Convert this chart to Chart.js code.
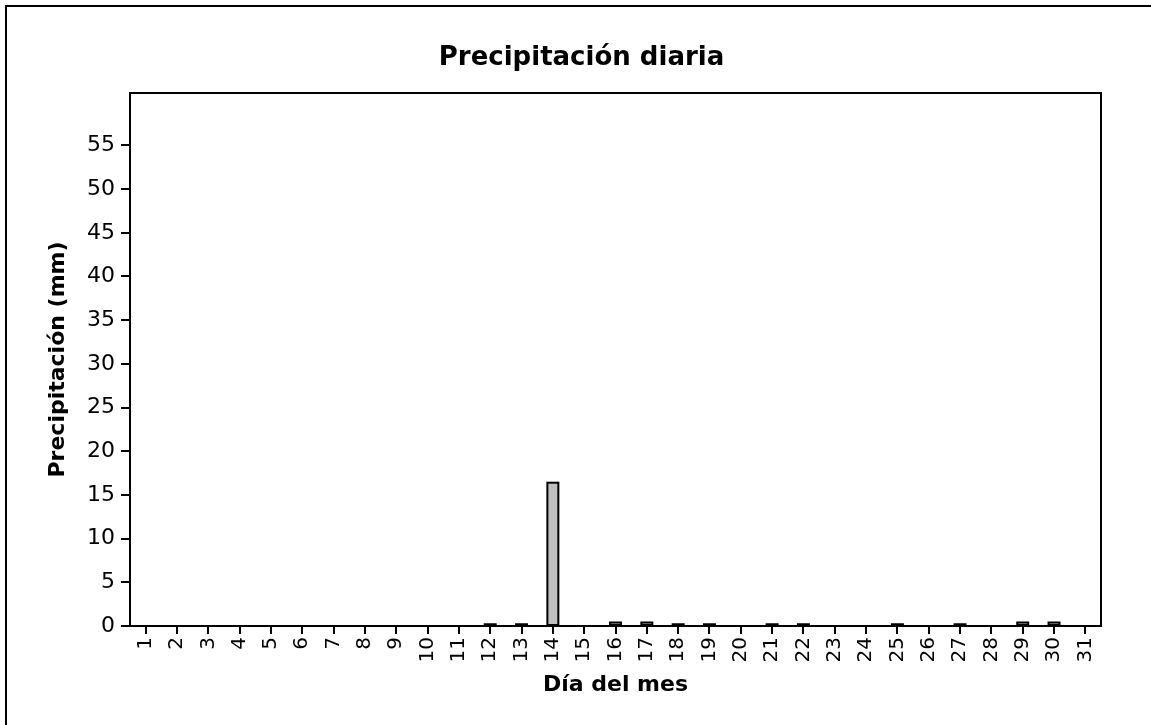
<!DOCTYPE html>
<html>
<head>
<meta charset="utf-8">
<script src="https://cdn.jsdelivr.net/npm/chart.js@4.4.1/dist/chart.umd.min.js"></script>
<style>
  html, body { margin: 0; padding: 0; background: #ffffff; }
  #wrap { position: relative; width: 1151px; height: 725px; }
  canvas { display: block; }
</style>
</head>
<body>
<div id="wrap"><canvas id="c" width="1151" height="725"></canvas></div>
<script>
const days = ['1','2','3','4','5','6','7','8','9','10','11','12','13','14','15','16','17','18','19','20','21','22','23','24','25','26','27','28','29','30','31'];
const precipitation = [0,0,0,0,0,0,0,0,0,0,0,0.2,0.2,16.4,0,0.4,0.4,0.2,0.2,0,0.2,0.2,0,0,0.2,0,0.2,0,0.4,0.4,0];
const yTickValues = [0,5,10,15,20,25,30,35,40,45,50,55];
const yMax = 61;

const titleText = 'Precipitación diaria';
const xTitle = 'Día del mes';
const yTitle = 'Precipitación (mm)';

const FONT = '"DejaVu Sans", Verdana, sans-serif';

const framePlugin = {
  id: 'frame',
  beforeDraw(chart) {
    const ctx = chart.ctx;
    ctx.save();
    ctx.fillStyle = '#ffffff';
    ctx.fillRect(0, 0, chart.width, chart.height);
    ctx.strokeStyle = '#000000';
    ctx.lineWidth = 2;
    ctx.beginPath();
    ctx.moveTo(6, chart.height);
    ctx.lineTo(6, 6);
    ctx.lineTo(chart.width, 6);
    ctx.stroke();
    ctx.restore();
  },
  afterDatasetsDraw(chart) {
    const ctx = chart.ctx;
    ctx.save();
    ctx.strokeStyle = '#000000';
    ctx.lineWidth = 2;
    chart.getDatasetMeta(0).data.forEach(el => {
      const p = el.getProps(['x', 'y', 'base', 'width'], true);
      if (Math.abs(p.base - p.y) < 0.01) return;
      ctx.strokeRect(p.x - p.width / 2, p.y, p.width, p.base - p.y);
    });
    ctx.restore();
  },
  afterDraw(chart) {
    const a = chart.chartArea;
    const ctx = chart.ctx;
    ctx.save();
    ctx.strokeStyle = '#000000';
    ctx.lineWidth = 2;
    ctx.strokeRect(a.left, a.top, a.right - a.left, a.bottom - a.top);
    ctx.restore();
  }
};

new Chart(document.getElementById('c'), {
  type: 'bar',
  data: {
    labels: days,
    datasets: [{
      data: precipitation,
      backgroundColor: '#c0c0c0',
      borderWidth: 0,
      categoryPercentage: 1.0,
      barPercentage: 0.35
    }]
  },
  options: {
    responsive: false,
    animation: false,
    devicePixelRatio: 1,
    layout: { padding: { left: 12, right: 0, top: 0, bottom: 0 } },
    plugins: {
      legend: { display: false },
      tooltip: { enabled: false },
      title: {
        display: true,
        text: titleText,
        color: '#000000',
        font: { family: FONT, size: 26, weight: 'bold' },
        padding: { top: 42.4, bottom: 19.4 }
      }
    },
    scales: {
      x: {
        type: 'category',
        offset: true,
        grid: { display: true, drawOnChartArea: false, drawTicks: true, tickLength: 8, offset: false, color: '#000000', lineWidth: 2 },
        border: { display: true, color: '#000000', width: 2 },
        ticks: { color: '#000000', font: { family: FONT, size: 20 }, minRotation: 90, maxRotation: 90, autoSkip: false, padding: 3 },
        title: { display: true, text: xTitle, color: '#000000', font: { family: FONT, size: 22, weight: 'bold' }, padding: { top: 0, bottom: 27 } },
        afterFit(scale) { scale.height = 99; }
      },
      y: {
        position: 'left',
        min: 0,
        max: yMax,
        grid: { display: true, drawOnChartArea: false, drawTicks: true, tickLength: 9, color: '#000000', lineWidth: 2 },
        border: { display: true, color: '#000000', width: 2 },
        ticks: { color: '#000000', font: { family: FONT, size: 22 }, padding: 6 },
        afterBuildTicks(scale) { scale.ticks = yTickValues.map(v => ({ value: v })); },
        title: { display: true, text: yTitle, color: '#000000', font: { family: FONT, size: 22, weight: 'bold' }, padding: { top: 33, bottom: 0 } },
        afterFit(scale) { scale.width = 118; }
      },
      y2: {
        position: 'right',
        display: true,
        min: 0,
        max: yMax,
        grid: { display: false },
        border: { display: false },
        ticks: { display: false },
        title: { display: false },
        afterFit(scale) { scale.width = 50; }
      }
    }
  },
  plugins: [framePlugin]
});
</script>
</body>
</html>
